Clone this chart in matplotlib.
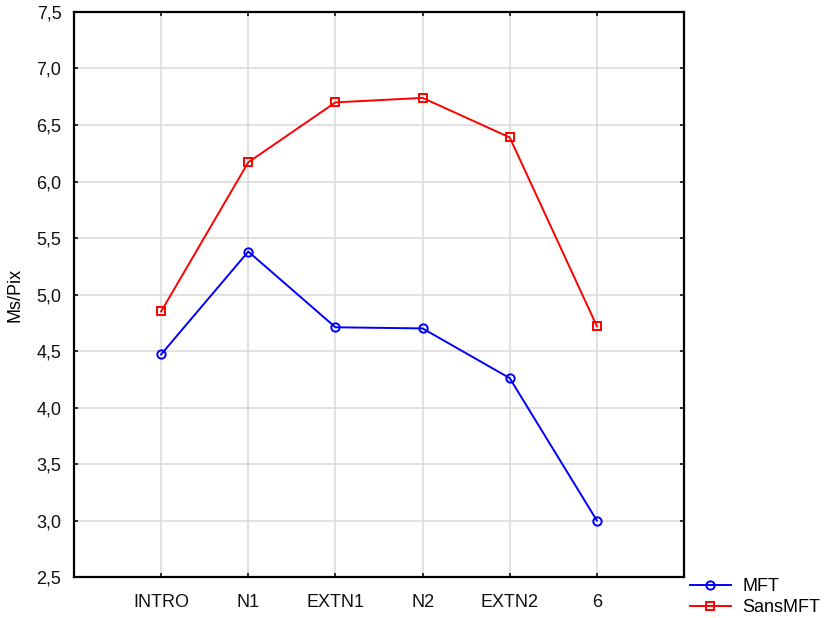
import matplotlib
matplotlib.use("Agg")
import matplotlib.pyplot as plt
from matplotlib.ticker import FuncFormatter

categories = ["INTRO", "N1", "EXTN1", "N2", "EXTN2", "6"]
mft = [4.47, 5.38, 4.71, 4.70, 4.26, 3.00]
sans_mft = [4.85, 6.17, 6.70, 6.74, 6.39, 4.72]
y_ticks = [2.5, 3.0, 3.5, 4.0, 4.5, 5.0, 5.5, 6.0, 6.5, 7.0, 7.5]

plt.rcParams["font.family"] = ["Liberation Sans", "DejaVu Sans"]
plt.rcParams["font.size"] = 13

fig = plt.figure(figsize=(8.24, 6.18), dpi=100)
ax = fig.add_axes([0.0898, 0.0663, 0.7403, 0.9143])

x = list(range(len(categories)))
ax.plot(x, mft, color="blue", marker="o", markersize=6, markerfacecolor="none",
        markeredgewidth=1.4, linewidth=1.4, label="MFT", zorder=3)
ax.plot(x, sans_mft, color="red", marker="s", markersize=5.5, markerfacecolor="none",
        markeredgewidth=1.4, linewidth=1.4, label="SansMFT", zorder=3)

ax.set_xlim(-1, len(categories))
ax.set_ylim(2.5, 7.5)
ax.set_xticks(x)
ax.set_xticklabels(categories)
ax.set_yticks(y_ticks)
ax.yaxis.set_major_formatter(FuncFormatter(lambda v, p: f"{v:.1f}".replace(".", ",")))
ax.grid(True, color="#d9d9d9", linewidth=1.1)
ax.set_axisbelow(True)
ax.tick_params(direction="in", length=3, width=1.2, top=True, right=True, pad=9,
               colors="#111111")
ax.tick_params(axis="x", pad=12)
for s in ax.spines.values():
    s.set_linewidth(1.6)

ax.set_ylabel("Ms/Pix", labelpad=9)

fig.legend(loc="lower right", bbox_to_anchor=(1.006, -0.012), frameon=False,
           handlelength=2.3, handletextpad=0.6, borderaxespad=0.1, labelspacing=0.25)

fig.savefig("out.png", dpi=100)
